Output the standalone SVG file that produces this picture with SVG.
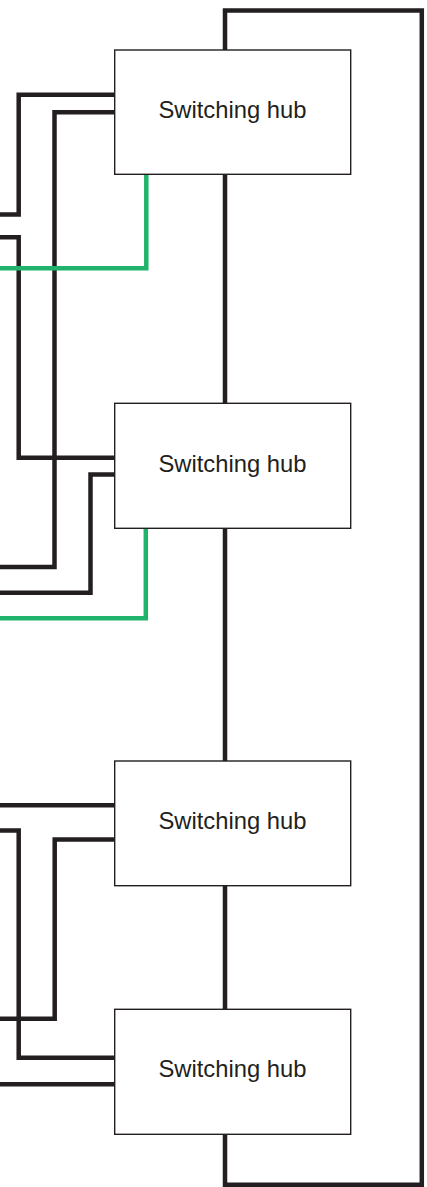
<svg xmlns="http://www.w3.org/2000/svg" width="427" height="1187" viewBox="0 0 427 1187">
<style>
.w{fill:none;stroke:#231f20;stroke-width:4.5;stroke-linejoin:miter;stroke-linecap:butt}
.g{fill:none;stroke:#1fb36b;stroke-width:4.5;stroke-linejoin:miter;stroke-linecap:butt}
.box{fill:#ffffff;stroke:#231f20;stroke-width:1.4}
.lbl{font-family:"Liberation Sans",Arial,sans-serif;font-size:23.8px;fill:#231f20;text-anchor:middle}
</style>
<rect width="427" height="1187" fill="#ffffff"/>
<g id="connectors">
<path class="w" d="M225,50 V10.5 H421.8 V1184.8 H225 V1134"/>
<path class="w" d="M225,174 V403 M225,528 V761 M225,886 V1009"/>
<path class="w" d="M115,94.7 H18.7 V214.4 H-2"/>
<path class="w" d="M115,112.3 H54.5 V567 H-2"/>
<path class="w" d="M-2,237.2 H18.7 V457.8 H115"/>
<path class="w" d="M115,474.5 H90.5 V592.8 H-2"/>
<path class="g" d="M146.3,174 V268.3 H-2"/>
<path class="g" d="M145.8,528 V618.3 H-2"/>
<path class="w" d="M-2,805.3 H115"/>
<path class="w" d="M-2,830.5 H18.7 V1057.7 H115"/>
<path class="w" d="M115,839.5 H54.7 V1018.7 H-2"/>
<path class="w" d="M-2,1084.2 H115"/>
</g>
<g id="hub1"><rect class="box" x="114.7" y="50" width="236" height="124.3"/><text class="lbl" x="232.5" y="117.5">Switching hub</text></g>
<g id="hub2"><rect class="box" x="114.7" y="403.3" width="236" height="125"/><text class="lbl" x="232.5" y="471.7">Switching hub</text></g>
<g id="hub3"><rect class="box" x="114.7" y="761" width="236" height="124.7"/><text class="lbl" x="232.5" y="829.3">Switching hub</text></g>
<g id="hub4"><rect class="box" x="114.7" y="1009.3" width="236" height="125"/><text class="lbl" x="232.5" y="1077.3">Switching hub</text></g>
</svg>
